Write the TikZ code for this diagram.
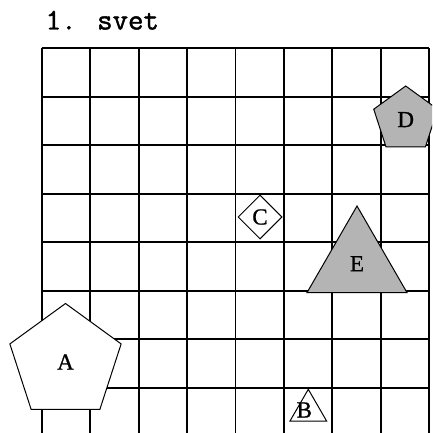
\documentclass[tikz,border=0pt]{standalone}
\usepackage{fontspec}
\newfontfamily\labelfont[FakeBold=1]{Liberation Serif}
\newfontfamily\titlefont[FakeBold=1.5]{Latin Modern Mono}
\usetikzlibrary{shapes.geometric}
\definecolor{shapegray}{RGB}{180,180,180}
\tikzset{
  gridline/.style={line width=1.9pt, black},
  labeltext/.style={font=\labelfont\fontsize{23}{23}\selectfont},
  shapebase/.style={draw=black, line width=1pt, inner sep=0pt, labeltext},
  whiteshape/.style={shapebase, fill=white},
  grayshape/.style={shapebase, fill=shapegray},
  pentagonshape/.style={regular polygon, regular polygon sides=5},
  triangleshape/.style={regular polygon, regular polygon sides=3},
}
\begin{document}
\begin{tikzpicture}[x=1pt, y=-1pt]
\useasboundingbox (0,0) rectangle (432,433);
\clip (0,0) rectangle (432,433);
\fill[white] (0,0) rectangle (432,433);
% title
\node[anchor=base west, inner sep=0pt, font=\titlefont\fontsize{30}{30}\selectfont] (title) at (45.5,29.5) {1. svet};
% grid
\foreach \i in {0,...,8} {
  \draw[gridline] ({41.7+48.45*\i},48.3) -- ({41.7+48.45*\i},440);
}
\foreach \j in {0,...,7} {
  \draw[gridline] (41.7,{48.3+48.5*\j}) -- (429.3,{48.3+48.5*\j});
}
% shapes
\node[whiteshape, pentagonshape, minimum size=117pt] (A) at (65.5,362) {A};
\node[grayshape, pentagonshape, minimum size=67.2pt] (D) at (405.7,119.6) {D};
\node[whiteshape, diamond, minimum width=44pt, minimum height=44pt] (C) at (260,217) {C};
\node[grayshape, triangleshape, minimum size=115.4pt] (E) at (357,263.7) {E};
\node[whiteshape, triangleshape, minimum size=42.4pt] (B) at (308.3,410.5) {};
\node[inner sep=0pt, labeltext] (Blabel) at (304.3,410) {B};
\end{tikzpicture}
\end{document}
